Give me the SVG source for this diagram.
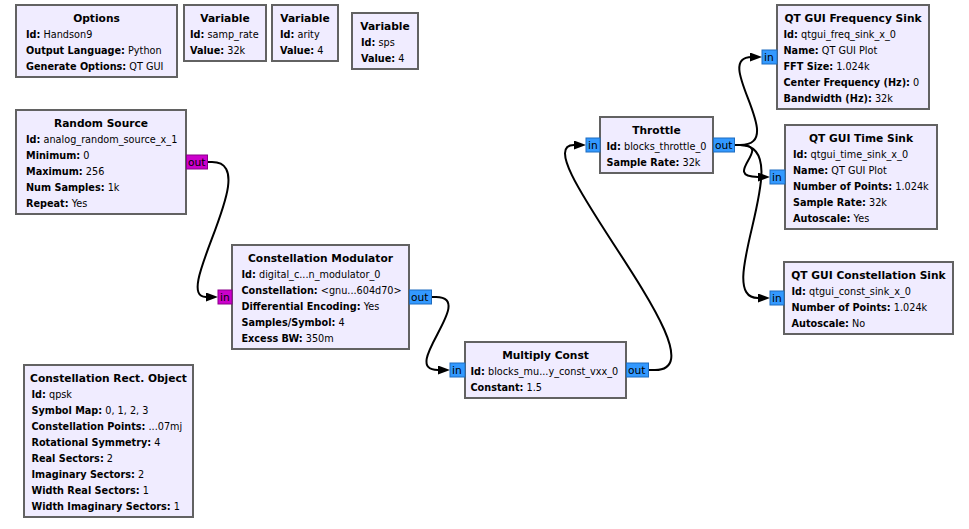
<svg xmlns="http://www.w3.org/2000/svg" width="969" height="529" viewBox="0 0 969 529">
  <style>
    .blk { fill: #f0ecff; stroke: #626262; stroke-width: 2; }
    .ttl { font-family: "DejaVu Sans", "Liberation Sans", sans-serif; font-weight: bold; font-size: 10.67px; fill: #000; text-anchor: middle; }
    .prm { font-family: "DejaVu Sans", "Liberation Sans", sans-serif; font-size: 9.7px; fill: #000; }
    .prm .k { font-weight: bold; }
    .pc { fill: #3399ff; stroke: #1f6cbf; stroke-width: 1; }
    .pb { fill: #cc00cc; stroke: #8a008a; stroke-width: 1; }
    .pl { font-family: "DejaVu Sans", "Liberation Sans", sans-serif; font-size: 10.67px; fill: #000; }
    .wire { fill: none; stroke: #000; stroke-width: 2; marker-end: url(#arrow); }
  </style>
  <defs>
    <marker id="arrow" markerUnits="userSpaceOnUse" markerWidth="12" markerHeight="9" refX="8" refY="4.5" orient="auto">
      <path d="M0,0 L12,4.5 L0,9 Z" fill="#000"/>
    </marker>
  </defs>
  <rect width="969" height="529" fill="#ffffff"/>

  <!-- connections -->
  <g id="connections">
    <path class="wire" d="M208,162 H212 C265,162 170,297 206,297 H214"/>
    <path class="wire" d="M432,297 H436 C478,297 398,370 438,370 H446"/>
    <path class="wire" d="M649,370 H655 C730,370 520,145 574,145 H582"/>
    <path class="wire" d="M735,145 H740 C790,145 710,57 752,57 H758"/>
    <path class="wire" d="M735,145 H740 C775,145 720,177 758,177 H766"/>
    <path class="wire" d="M735,145 H740 C800,145 710,298 758,298 H766"/>
  </g>

  <!-- Options -->
  <g id="options">
    <rect class="blk" x="16" y="5" width="161" height="72"/>
    <text class="ttl" x="96.5" y="21.5">Options</text>
    <text class="prm" x="26" y="37.5"><tspan class="k">Id:</tspan> Handson9</text>
    <text class="prm" x="26" y="53.5"><tspan class="k">Output Language:</tspan> Python</text>
    <text class="prm" x="26" y="69.5"><tspan class="k">Generate Options:</tspan> QT GUI</text>
  </g>

  <!-- Variables -->
  <g id="variable_samp_rate">
    <rect class="blk" x="184" y="5" width="82" height="56"/>
    <text class="ttl" x="225" y="21.5">Variable</text>
    <text class="prm" x="190" y="37.5"><tspan class="k">Id:</tspan> samp_rate</text>
    <text class="prm" x="190" y="53.5"><tspan class="k">Value:</tspan> 32k</text>
  </g>
  <g id="variable_arity">
    <rect class="blk" x="272" y="5" width="66" height="56"/>
    <text class="ttl" x="305" y="21.5">Variable</text>
    <text class="prm" x="280" y="37.5"><tspan class="k">Id:</tspan> arity</text>
    <text class="prm" x="280" y="53.5"><tspan class="k">Value:</tspan> 4</text>
  </g>
  <g id="variable_sps">
    <rect class="blk" x="352" y="13" width="66" height="56"/>
    <text class="ttl" x="385" y="29.5">Variable</text>
    <text class="prm" x="361" y="45.5"><tspan class="k">Id:</tspan> sps</text>
    <text class="prm" x="361" y="61.5"><tspan class="k">Value:</tspan> 4</text>
  </g>

  <!-- Random Source -->
  <g id="analog_random_source_x_1">
    <rect class="blk" x="16" y="110" width="170" height="104"/>
    <text class="ttl" x="101" y="126.5">Random Source</text>
    <text class="prm" x="26" y="142.5"><tspan class="k">Id:</tspan> analog_random_source_x_1</text>
    <text class="prm" x="26" y="158.5"><tspan class="k">Minimum:</tspan> 0</text>
    <text class="prm" x="26" y="174.5"><tspan class="k">Maximum:</tspan> 256</text>
    <text class="prm" x="26" y="190.5"><tspan class="k">Num Samples:</tspan> 1k</text>
    <text class="prm" x="26" y="206.5"><tspan class="k">Repeat:</tspan> Yes</text>
    <rect class="pb" x="186.5" y="155" width="21" height="14"/>
    <text class="pl" x="188" y="166">out</text>
  </g>

  <!-- Constellation Modulator -->
  <g id="digital_constellation_modulator_0">
    <rect class="blk" x="232" y="245" width="177" height="104"/>
    <text class="ttl" x="320.5" y="261.5">Constellation Modulator</text>
    <text class="prm" x="241.5" y="277.5"><tspan class="k">Id:</tspan> digital_c...n_modulator_0</text>
    <text class="prm" x="241.5" y="293.5"><tspan class="k">Constellation:</tspan> &lt;gnu...604d70&gt;</text>
    <text class="prm" x="241.5" y="309.5"><tspan class="k">Differential Encoding:</tspan> Yes</text>
    <text class="prm" x="241.5" y="325.5"><tspan class="k">Samples/Symbol:</tspan> 4</text>
    <text class="prm" x="241.5" y="341.5"><tspan class="k">Excess BW:</tspan> 350m</text>
    <rect class="pb" x="218" y="290" width="14" height="14"/>
    <text class="pl" x="220" y="301">in</text>
    <rect class="pc" x="409.5" y="290" width="22" height="14"/>
    <text class="pl" x="411" y="301">out</text>
  </g>

  <!-- Multiply Const -->
  <g id="blocks_multiply_const_vxx_0">
    <rect class="blk" x="465" y="342" width="161" height="56"/>
    <text class="ttl" x="545.5" y="358.5">Multiply Const</text>
    <text class="prm" x="470.5" y="374.5"><tspan class="k">Id:</tspan> blocks_mu...y_const_vxx_0</text>
    <text class="prm" x="470.5" y="390.5"><tspan class="k">Constant:</tspan> 1.5</text>
    <rect class="pc" x="450" y="363" width="15" height="14"/>
    <text class="pl" x="452" y="374">in</text>
    <rect class="pc" x="626.5" y="363" width="22" height="14"/>
    <text class="pl" x="628" y="374">out</text>
  </g>

  <!-- Throttle -->
  <g id="blocks_throttle_0">
    <rect class="blk" x="600" y="117" width="113" height="56"/>
    <text class="ttl" x="656.5" y="133.5">Throttle</text>
    <text class="prm" x="606.5" y="149.5"><tspan class="k">Id:</tspan> blocks_throttle_0</text>
    <text class="prm" x="606.5" y="165.5"><tspan class="k">Sample Rate:</tspan> 32k</text>
    <rect class="pc" x="586" y="138" width="14" height="14"/>
    <text class="pl" x="588" y="149">in</text>
    <rect class="pc" x="713.5" y="138" width="21" height="14"/>
    <text class="pl" x="715" y="149">out</text>
  </g>

  <!-- QT GUI Frequency Sink -->
  <g id="qtgui_freq_sink_x_0">
    <rect class="blk" x="777" y="5" width="152" height="104"/>
    <text class="ttl" x="853" y="21.5">QT GUI Frequency Sink</text>
    <text class="prm" x="783.5" y="37.5"><tspan class="k">Id:</tspan> qtgui_freq_sink_x_0</text>
    <text class="prm" x="783.5" y="53.5"><tspan class="k">Name:</tspan> QT GUI Plot</text>
    <text class="prm" x="783.5" y="69.5"><tspan class="k">FFT Size:</tspan> 1.024k</text>
    <text class="prm" x="783.5" y="85.5"><tspan class="k">Center Frequency (Hz):</tspan> 0</text>
    <text class="prm" x="783.5" y="101.5"><tspan class="k">Bandwidth (Hz):</tspan> 32k</text>
    <rect class="pc" x="762" y="50" width="15" height="14"/>
    <text class="pl" x="764" y="61">in</text>
  </g>

  <!-- QT GUI Time Sink -->
  <g id="qtgui_time_sink_x_0">
    <rect class="blk" x="785" y="125" width="152" height="104"/>
    <text class="ttl" x="861" y="141.5">QT GUI Time Sink</text>
    <text class="prm" x="793" y="157.5"><tspan class="k">Id:</tspan> qtgui_time_sink_x_0</text>
    <text class="prm" x="793" y="173.5"><tspan class="k">Name:</tspan> QT GUI Plot</text>
    <text class="prm" x="793" y="189.5"><tspan class="k">Number of Points:</tspan> 1.024k</text>
    <text class="prm" x="793" y="205.5"><tspan class="k">Sample Rate:</tspan> 32k</text>
    <text class="prm" x="793" y="221.5"><tspan class="k">Autoscale:</tspan> Yes</text>
    <rect class="pc" x="770" y="170" width="15" height="14"/>
    <text class="pl" x="772" y="181">in</text>
  </g>

  <!-- QT GUI Constellation Sink -->
  <g id="qtgui_const_sink_x_0">
    <rect class="blk" x="784" y="262" width="169" height="72"/>
    <text class="ttl" x="868.5" y="278.5">QT GUI Constellation Sink</text>
    <text class="prm" x="791.5" y="294.5"><tspan class="k">Id:</tspan> qtgui_const_sink_x_0</text>
    <text class="prm" x="791.5" y="310.5"><tspan class="k">Number of Points:</tspan> 1.024k</text>
    <text class="prm" x="791.5" y="326.5"><tspan class="k">Autoscale:</tspan> No</text>
    <rect class="pc" x="770" y="291" width="14" height="14"/>
    <text class="pl" x="772" y="302">in</text>
  </g>

  <!-- Constellation Rect. Object -->
  <g id="qpsk">
    <rect class="blk" x="24" y="365" width="169" height="152"/>
    <text class="ttl" x="108.5" y="381.5">Constellation Rect. Object</text>
    <text class="prm" x="31.5" y="397.5"><tspan class="k">Id:</tspan> qpsk</text>
    <text class="prm" x="31.5" y="413.5"><tspan class="k">Symbol Map:</tspan> 0, 1, 2, 3</text>
    <text class="prm" x="31.5" y="429.5"><tspan class="k">Constellation Points:</tspan> ...07mj</text>
    <text class="prm" x="31.5" y="445.5"><tspan class="k">Rotational Symmetry:</tspan> 4</text>
    <text class="prm" x="31.5" y="461.5"><tspan class="k">Real Sectors:</tspan> 2</text>
    <text class="prm" x="31.5" y="477.5"><tspan class="k">Imaginary Sectors:</tspan> 2</text>
    <text class="prm" x="31.5" y="493.5"><tspan class="k">Width Real Sectors:</tspan> 1</text>
    <text class="prm" x="31.5" y="509.5"><tspan class="k">Width Imaginary Sectors:</tspan> 1</text>
  </g>
</svg>
